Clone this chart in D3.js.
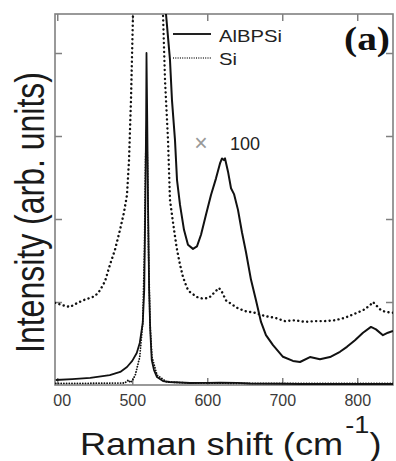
<!DOCTYPE html>
<html>
<head>
<meta charset="utf-8">
<script src="https://cdn.jsdelivr.net/npm/d3@7"></script>
<style>
  html, body { margin: 0; padding: 0; background: #fff; }
  svg { display: block; font-family: "Liberation Sans", Arial, sans-serif; }
</style>
</head>
<body>
<div id="chart"></div>
<script>
// ---------- Data (Raman shift in cm^-1, intensity in arb. units) ----------
const xTicks = [400, 500, 600, 700, 800];
const yTicks = [1, 2, 3, 4];

// AlBPSi, as measured
const alShift = [398, 420, 444, 470, 484, 493, 500, 506, 510, 514, 516, 517.5, 518.5, 519, 520, 521, 522.5, 524, 526, 529, 533, 541, 550, 577, 600, 617, 640, 657, 700, 724, 780, 848];
const alValue = [0.06, 0.07, 0.085, 0.12, 0.157, 0.217, 0.29, 0.386, 0.506, 0.747, 1.145, 2.23, 3.19, 4.0, 3.2, 2.23, 1.15, 0.66, 0.30, 0.18, 0.096, 0.048, 0.036, 0.024, 0.026, 0.028, 0.026, 0.018, 0.015, 0.012, 0.012, 0.012];

// Si, as measured
const siShift = [398, 430, 460, 490, 495, 497, 500, 504, 510, 514, 516.3, 517.7, 519, 520.3, 521.7, 523.7, 526.3, 533, 546, 577, 650, 750, 848];
const siValue = [0.02, 0.02, 0.022, 0.024, 0.06, 0.03, 0.05, 0.12, 0.337, 0.747, 1.63, 2.71, 3.07, 2.71, 1.63, 0.747, 0.337, 0.12, 0.036, 0.024, 0.02, 0.02, 0.02];

// AlBPSi x100 (only the part past the Si peak is on scale)
const al100Shift = [543.7, 545, 550.3, 553, 557, 559.7, 563.7, 569, 574.3, 581, 586.3, 591.7, 598.3, 605, 611.7, 617, 619.7, 622.3, 623.7, 627.7, 631.7, 635.7, 641, 646.3, 651.7, 658.3, 665, 671.7, 678.3, 687.7, 701, 714.3, 723.7, 737, 750.3, 763.7, 777, 786.3, 797, 807.7, 818.3, 825, 834.3, 841, 847.7];
const al100Value = [4.76, 4.47, 3.92, 3.43, 2.95, 2.47, 2.17, 1.87, 1.69, 1.64, 1.67, 1.81, 2.05, 2.29, 2.49, 2.67, 2.73, 2.71, 2.73, 2.57, 2.37, 2.30, 2.11, 1.84, 1.60, 1.27, 1.02, 0.76, 0.60, 0.48, 0.34, 0.29, 0.277, 0.337, 0.31, 0.337, 0.40, 0.46, 0.54, 0.63, 0.70, 0.67, 0.60, 0.63, 0.65];

// Si x100, left and right of the main peak
const si100LeftShift = [397, 407.7, 417, 425, 434.3, 443.7, 450.3, 457, 463.7, 470.3, 477, 483.7, 489, 493, 495.7, 498.3, 501, 502.3];
const si100LeftValue = [0.99, 0.96, 0.94, 0.98, 1.02, 1.05, 1.07, 1.14, 1.25, 1.45, 1.63, 1.87, 2.08, 2.29, 2.71, 3.43, 4.47, 4.88];
const si100RightShift = [539.7, 541, 543.7, 547.7, 550.3, 555.7, 559.7, 563.7, 567.7, 573, 577, 586.3, 594.3, 602.3, 609, 615.7, 619.7, 625, 631.7, 639.7, 650.3, 663.7, 677, 690.3, 703.7, 717, 730.3, 743.7, 757, 770.3, 783.7, 797, 807.7, 817, 821, 826.3, 831.7, 838.3, 847.7];
const si100RightValue = [4.88, 4.47, 3.67, 2.95, 2.23, 1.87, 1.63, 1.45, 1.30, 1.17, 1.12, 1.06, 1.04, 1.05, 1.11, 1.17, 1.12, 1.02, 0.98, 0.93, 0.89, 0.87, 0.83, 0.81, 0.77, 0.78, 0.76, 0.77, 0.77, 0.78, 0.81, 0.86, 0.90, 0.96, 1.00, 0.95, 0.90, 0.88, 0.87];

const zip = (xs, ys) => xs.map((x, i) => [x, ys[i]]);

// ---------- Layout ----------
const width = 396;
const height = 461;
const plot = { left: 55, right: 393, top: 14, bottom: 385 };

const svg = d3.select("#chart")
  .append("svg")
  .attr("width", width)
  .attr("height", height);

// ---------- Scales ----------
const x = d3.scaleLinear().domain([397, 847.7]).range([plot.left, plot.right]);
const y = d3.scaleLinear().domain([0, 4.47]).range([plot.bottom, plot.top]);

const line = d3.line()
  .x(d => x(d[0]))
  .y(d => y(d[1]));

const defs = svg.append("defs");

defs.append("clipPath")
  .attr("id", "plot-clip")
  .append("rect")
  .attr("x", plot.left)
  .attr("y", plot.top)
  .attr("width", plot.right - plot.left)
  .attr("height", plot.bottom - plot.top);

// the "4" of the first tick label is cut off in the original figure
defs.append("clipPath")
  .attr("id", "label-clip")
  .append("rect")
  .attr("x", 53)
  .attr("y", 370)
  .attr("width", 343)
  .attr("height", 50);

// ---------- Axes (frame with inward ticks, no y labels) ----------
const axisColor = "#808080";
const tickLen = 7;

const frame = svg.append("g").attr("class", "frame");

frame.append("g")
  .attr("clip-path", "url(#label-clip)")
  .append("g")
  .attr("transform", `translate(0,${plot.bottom})`)
  .call(d3.axisBottom(x).tickValues(xTicks).tickSizeInner(-tickLen).tickSizeOuter(0).tickPadding(10))
  .call(g => g.select(".domain").remove())
  .call(g => g.selectAll(".tick line").attr("stroke", axisColor).attr("stroke-width", 1.5))
  .call(g => g.selectAll(".tick text")
    .attr("font-family", "Liberation Sans, Arial, sans-serif")
    .attr("font-size", 16)
    .attr("fill", "#3a3a3a"));

frame.append("g")
  .attr("transform", `translate(0,${plot.top})`)
  .call(d3.axisTop(x).tickValues(xTicks).tickSizeInner(-tickLen).tickSizeOuter(0).tickFormat(""))
  .call(g => g.select(".domain").remove())
  .call(g => g.selectAll(".tick line").attr("stroke", axisColor).attr("stroke-width", 1.5));

frame.append("g")
  .attr("transform", `translate(${plot.left},0)`)
  .call(d3.axisLeft(y).tickValues(yTicks).tickSizeInner(-tickLen).tickSizeOuter(0).tickFormat(""))
  .call(g => g.select(".domain").remove())
  .call(g => g.selectAll(".tick line").attr("stroke", axisColor).attr("stroke-width", 1.5));

frame.append("g")
  .attr("transform", `translate(${plot.right},0)`)
  .call(d3.axisRight(y).tickValues(yTicks).tickSizeInner(-tickLen).tickSizeOuter(0).tickFormat(""))
  .call(g => g.select(".domain").remove())
  .call(g => g.selectAll(".tick line").attr("stroke", axisColor).attr("stroke-width", 1.5));

frame.append("rect")
  .attr("x", plot.left)
  .attr("y", plot.top)
  .attr("width", plot.right - plot.left)
  .attr("height", plot.bottom - plot.top)
  .attr("fill", "none")
  .attr("stroke", axisColor)
  .attr("stroke-width", 1.6);

// ---------- Curves ----------
const curves = svg.append("g").attr("clip-path", "url(#plot-clip)");

const dotted = { "stroke-width": 2.4, "stroke-dasharray": "0.1,4.4", "stroke-linecap": "round" };

[
  { data: zip(siShift, siValue), style: { "stroke-width": 1.8, "stroke-dasharray": "0.1,2.6", "stroke-linecap": "round" } },
  { data: zip(si100LeftShift, si100LeftValue), style: dotted },
  { data: zip(si100RightShift, si100RightValue), style: dotted },
  { data: zip(alShift, alValue), style: { "stroke-width": 1.8 } },
  { data: zip(al100Shift, al100Value), style: { "stroke-width": 2 } }
].forEach(s => {
  const p = curves.append("path")
    .datum(s.data)
    .attr("d", line)
    .attr("fill", "none")
    .attr("stroke", "#111")
    .attr("stroke-linejoin", "round");
  Object.entries(s.style).forEach(([k, v]) => p.attr(k, v));
});

// ---------- Legend ----------
const legend = svg.append("g").attr("class", "legend");

legend.append("line")
  .attr("x1", 173).attr("x2", 211)
  .attr("y1", 34).attr("y2", 34)
  .attr("stroke", "#222").attr("stroke-width", 1.8);

legend.append("line")
  .attr("x1", 173).attr("x2", 211)
  .attr("y1", 58).attr("y2", 58)
  .attr("stroke", "#333").attr("stroke-width", 1.4)
  .attr("stroke-dasharray", "1,1.3");

legend.append("text")
  .attr("x", 219).attr("y", 42)
  .attr("font-size", 17)
  .attr("textLength", 63).attr("lengthAdjust", "spacingAndGlyphs")
  .attr("fill", "#222")
  .text("AlBPSi");

legend.append("text")
  .attr("x", 219).attr("y", 65)
  .attr("font-size", 17)
  .attr("textLength", 18).attr("lengthAdjust", "spacingAndGlyphs")
  .attr("fill", "#222")
  .text("Si");

// ---------- Annotations ----------
svg.append("text")
  .attr("x", 344).attr("y", 50)
  .attr("font-family", "Liberation Serif, Times New Roman, serif")
  .attr("font-weight", "bold")
  .attr("font-size", 33)
  .attr("textLength", 46).attr("lengthAdjust", "spacingAndGlyphs")
  .attr("fill", "#111")
  .text("(a)");

svg.append("text")
  .attr("x", 201).attr("y", 151)
  .attr("text-anchor", "middle")
  .attr("font-size", 23)
  .attr("fill", "#999")
  .text("×");

svg.append("text")
  .attr("x", 230).attr("y", 150)
  .attr("font-size", 18)
  .attr("fill", "#222")
  .text("100");

// ---------- Axis titles ----------
const xTitle = svg.append("g")
  .attr("transform", "translate(80,455) scale(1.13,1)")
  .append("text")
  .attr("font-size", 32)
  .attr("fill", "#1a1a1a");

xTitle.append("tspan").text("Raman shift (cm");
xTitle.append("tspan").attr("font-size", 24).attr("dy", -22).attr("dx", 2).text("-1");
xTitle.append("tspan").attr("font-size", 32).attr("dy", 22).text(")");

svg.append("text")
  .attr("transform", "translate(44,212.5) rotate(-90) scale(1,1.25)")
  .attr("text-anchor", "middle")
  .attr("font-size", 32)
  .attr("textLength", 281).attr("lengthAdjust", "spacingAndGlyphs")
  .attr("fill", "#1a1a1a")
  .text("Intensity (arb. units)");
</script>
</body>
</html>
